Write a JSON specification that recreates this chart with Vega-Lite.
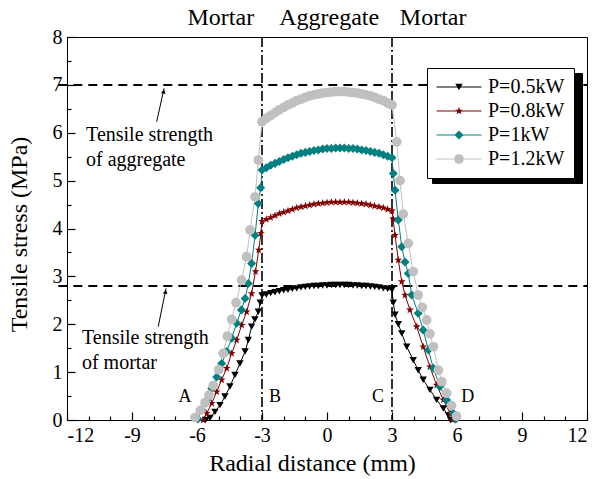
{
"$schema": "https://vega.github.io/schema/vega-lite/v6.json",
"width": 520, "height": 383,
"autosize": "none",
"padding": {"left": 67, "top": 37, "right": 15, "bottom": 59},
"background": "white",
"config": {
  "font": "Liberation Serif",
  "view": {"stroke": "black", "strokeWidth": 1},
  "axis": {"grid": false, "domainColor": "black", "tickColor": "black", "labelColor": "black", "titleColor": "black", "labelFont": "Liberation Serif", "titleFont": "Liberation Serif", "labelFontSize": 20, "titleFontSize": 24, "titleFontWeight": "normal", "tickWidth": 1.2, "domainWidth": 1}
},
"datasets": {
"curves": [
{"s":"P=0.5kW","x":-5.6,"y":0},{"s":"P=0.5kW","x":-5.4,"y":0.04},{"s":"P=0.5kW","x":-5.17,"y":0.17},{"s":"P=0.5kW","x":-4.94,"y":0.31},{"s":"P=0.5kW","x":-4.71,"y":0.49},{"s":"P=0.5kW","x":-4.48,"y":0.7},{"s":"P=0.5kW","x":-4.25,"y":0.94},{"s":"P=0.5kW","x":-4.02,"y":1.18},{"s":"P=0.5kW","x":-3.78,"y":1.43},{"s":"P=0.5kW","x":-3.63,"y":1.67},{"s":"P=0.5kW","x":-3.48,"y":1.95},{"s":"P=0.5kW","x":-3.33,"y":2.1},{"s":"P=0.5kW","x":-3.17,"y":2.26},{"s":"P=0.5kW","x":-3.08,"y":2.45},
{"s":"P=0.5kW","x":-3,"y":2.6},{"s":"P=0.5kW","x":-2.8,"y":2.62},{"s":"P=0.5kW","x":-2.6,"y":2.65},{"s":"P=0.5kW","x":-2.4,"y":2.67},{"s":"P=0.5kW","x":-2.2,"y":2.69},{"s":"P=0.5kW","x":-2,"y":2.71},{"s":"P=0.5kW","x":-1.8,"y":2.72},{"s":"P=0.5kW","x":-1.6,"y":2.74},{"s":"P=0.5kW","x":-1.4,"y":2.75},{"s":"P=0.5kW","x":-1.2,"y":2.77},{"s":"P=0.5kW","x":-1,"y":2.78},{"s":"P=0.5kW","x":-0.8,"y":2.79},{"s":"P=0.5kW","x":-0.6,"y":2.8},{"s":"P=0.5kW","x":-0.4,"y":2.8},{"s":"P=0.5kW","x":-0.2,"y":2.81},{"s":"P=0.5kW","x":0,"y":2.81},{"s":"P=0.5kW","x":0.2,"y":2.82},{"s":"P=0.5kW","x":0.4,"y":2.82},{"s":"P=0.5kW","x":0.6,"y":2.82},{"s":"P=0.5kW","x":0.8,"y":2.82},{"s":"P=0.5kW","x":1,"y":2.82},{"s":"P=0.5kW","x":1.2,"y":2.81},{"s":"P=0.5kW","x":1.4,"y":2.81},{"s":"P=0.5kW","x":1.6,"y":2.8},{"s":"P=0.5kW","x":1.8,"y":2.8},{"s":"P=0.5kW","x":2,"y":2.79},{"s":"P=0.5kW","x":2.2,"y":2.78},{"s":"P=0.5kW","x":2.4,"y":2.77},{"s":"P=0.5kW","x":2.6,"y":2.75},{"s":"P=0.5kW","x":2.8,"y":2.74},{"s":"P=0.5kW","x":3,"y":2.72},
{"s":"P=0.5kW","x":3.06,"y":2.45},{"s":"P=0.5kW","x":3.14,"y":2.2},{"s":"P=0.5kW","x":3.29,"y":2.0},{"s":"P=0.5kW","x":3.45,"y":1.81},{"s":"P=0.5kW","x":3.68,"y":1.53},{"s":"P=0.5kW","x":3.98,"y":1.25},{"s":"P=0.5kW","x":4.21,"y":1.04},{"s":"P=0.5kW","x":4.44,"y":0.84},{"s":"P=0.5kW","x":4.75,"y":0.63},{"s":"P=0.5kW","x":5.06,"y":0.42},{"s":"P=0.5kW","x":5.37,"y":0.24},{"s":"P=0.5kW","x":5.6,"y":0.1},{"s":"P=0.5kW","x":5.7,"y":0},
{"s":"P=0.8kW","x":-5.72,"y":0},{"s":"P=0.8kW","x":-5.55,"y":0.14},{"s":"P=0.8kW","x":-5.32,"y":0.35},{"s":"P=0.8kW","x":-5.09,"y":0.59},{"s":"P=0.8kW","x":-4.86,"y":0.84},{"s":"P=0.8kW","x":-4.63,"y":1.08},{"s":"P=0.8kW","x":-4.4,"y":1.39},{"s":"P=0.8kW","x":-4.17,"y":1.67},{"s":"P=0.8kW","x":-3.94,"y":1.98},{"s":"P=0.8kW","x":-3.71,"y":2.26},{"s":"P=0.8kW","x":-3.48,"y":2.64},{"s":"P=0.8kW","x":-3.3,"y":3.1},{"s":"P=0.8kW","x":-3.15,"y":3.55},{"s":"P=0.8kW","x":-3.05,"y":3.9},
{"s":"P=0.8kW","x":-3,"y":4.15},{"s":"P=0.8kW","x":-2.8,"y":4.19},{"s":"P=0.8kW","x":-2.6,"y":4.23},{"s":"P=0.8kW","x":-2.4,"y":4.27},{"s":"P=0.8kW","x":-2.2,"y":4.31},{"s":"P=0.8kW","x":-2,"y":4.34},{"s":"P=0.8kW","x":-1.8,"y":4.37},{"s":"P=0.8kW","x":-1.6,"y":4.4},{"s":"P=0.8kW","x":-1.4,"y":4.43},{"s":"P=0.8kW","x":-1.2,"y":4.45},{"s":"P=0.8kW","x":-1,"y":4.47},{"s":"P=0.8kW","x":-0.8,"y":4.49},{"s":"P=0.8kW","x":-0.6,"y":4.51},{"s":"P=0.8kW","x":-0.4,"y":4.52},{"s":"P=0.8kW","x":-0.2,"y":4.53},{"s":"P=0.8kW","x":0,"y":4.54},{"s":"P=0.8kW","x":0.2,"y":4.55},{"s":"P=0.8kW","x":0.4,"y":4.55},{"s":"P=0.8kW","x":0.6,"y":4.55},{"s":"P=0.8kW","x":0.8,"y":4.55},{"s":"P=0.8kW","x":1,"y":4.55},{"s":"P=0.8kW","x":1.2,"y":4.54},{"s":"P=0.8kW","x":1.4,"y":4.53},{"s":"P=0.8kW","x":1.6,"y":4.52},{"s":"P=0.8kW","x":1.8,"y":4.51},{"s":"P=0.8kW","x":2,"y":4.49},{"s":"P=0.8kW","x":2.2,"y":4.47},{"s":"P=0.8kW","x":2.4,"y":4.45},{"s":"P=0.8kW","x":2.6,"y":4.43},{"s":"P=0.8kW","x":2.8,"y":4.4},{"s":"P=0.8kW","x":3,"y":4.37},
{"s":"P=0.8kW","x":3.05,"y":4.2},{"s":"P=0.8kW","x":3.14,"y":3.86},{"s":"P=0.8kW","x":3.29,"y":3.34},{"s":"P=0.8kW","x":3.45,"y":2.89},{"s":"P=0.8kW","x":3.6,"y":2.61},{"s":"P=0.8kW","x":3.83,"y":2.3},{"s":"P=0.8kW","x":4.14,"y":1.95},{"s":"P=0.8kW","x":4.44,"y":1.53},{"s":"P=0.8kW","x":4.75,"y":1.11},{"s":"P=0.8kW","x":5.06,"y":0.73},{"s":"P=0.8kW","x":5.37,"y":0.42},{"s":"P=0.8kW","x":5.68,"y":0.14},{"s":"P=0.8kW","x":5.8,"y":0},
{"s":"P=1kW","x":-5.96,"y":0.02},{"s":"P=1kW","x":-5.78,"y":0.21},{"s":"P=1kW","x":-5.55,"y":0.42},{"s":"P=1kW","x":-5.32,"y":0.66},{"s":"P=1kW","x":-5.09,"y":0.9},{"s":"P=1kW","x":-4.86,"y":1.18},{"s":"P=1kW","x":-4.63,"y":1.43},{"s":"P=1kW","x":-4.4,"y":1.71},{"s":"P=1kW","x":-4.17,"y":2.02},{"s":"P=1kW","x":-3.95,"y":2.3},{"s":"P=1kW","x":-3.78,"y":2.54},{"s":"P=1kW","x":-3.63,"y":2.85},{"s":"P=1kW","x":-3.48,"y":3.27},{"s":"P=1kW","x":-3.32,"y":3.86},{"s":"P=1kW","x":-3.17,"y":4.52},{"s":"P=1kW","x":-3.06,"y":4.85},
{"s":"P=1kW","x":-3,"y":5.22},{"s":"P=1kW","x":-2.8,"y":5.27},{"s":"P=1kW","x":-2.6,"y":5.32},{"s":"P=1kW","x":-2.4,"y":5.36},{"s":"P=1kW","x":-2.2,"y":5.4},{"s":"P=1kW","x":-2,"y":5.44},{"s":"P=1kW","x":-1.8,"y":5.48},{"s":"P=1kW","x":-1.6,"y":5.51},{"s":"P=1kW","x":-1.4,"y":5.54},{"s":"P=1kW","x":-1.2,"y":5.57},{"s":"P=1kW","x":-1,"y":5.59},{"s":"P=1kW","x":-0.8,"y":5.61},{"s":"P=1kW","x":-0.6,"y":5.63},{"s":"P=1kW","x":-0.4,"y":5.64},{"s":"P=1kW","x":-0.2,"y":5.66},{"s":"P=1kW","x":0,"y":5.67},{"s":"P=1kW","x":0.2,"y":5.67},{"s":"P=1kW","x":0.4,"y":5.68},{"s":"P=1kW","x":0.6,"y":5.68},{"s":"P=1kW","x":0.8,"y":5.68},{"s":"P=1kW","x":1,"y":5.67},{"s":"P=1kW","x":1.2,"y":5.67},{"s":"P=1kW","x":1.4,"y":5.66},{"s":"P=1kW","x":1.6,"y":5.64},{"s":"P=1kW","x":1.8,"y":5.63},{"s":"P=1kW","x":2,"y":5.61},{"s":"P=1kW","x":2.2,"y":5.59},{"s":"P=1kW","x":2.4,"y":5.57},{"s":"P=1kW","x":2.6,"y":5.54},{"s":"P=1kW","x":2.8,"y":5.51},{"s":"P=1kW","x":3,"y":5.48},
{"s":"P=1kW","x":3.06,"y":5.15},{"s":"P=1kW","x":3.14,"y":4.8},{"s":"P=1kW","x":3.29,"y":4.18},{"s":"P=1kW","x":3.45,"y":3.62},{"s":"P=1kW","x":3.6,"y":3.3},{"s":"P=1kW","x":3.75,"y":3.06},{"s":"P=1kW","x":3.91,"y":2.61},{"s":"P=1kW","x":4.21,"y":2.23},{"s":"P=1kW","x":4.44,"y":1.88},{"s":"P=1kW","x":4.68,"y":1.46},{"s":"P=1kW","x":4.91,"y":1.08},{"s":"P=1kW","x":5.21,"y":0.7},{"s":"P=1kW","x":5.52,"y":0.42},{"s":"P=1kW","x":5.83,"y":0.14},{"s":"P=1kW","x":5.95,"y":0.02},
{"s":"P=1.2kW","x":-6.09,"y":0.05},{"s":"P=1.2kW","x":-5.85,"y":0.2},{"s":"P=1.2kW","x":-5.63,"y":0.36},{"s":"P=1.2kW","x":-5.45,"y":0.52},{"s":"P=1.2kW","x":-5.25,"y":0.72},{"s":"P=1.2kW","x":-5.0,"y":1.05},{"s":"P=1.2kW","x":-4.79,"y":1.39},{"s":"P=1.2kW","x":-4.6,"y":1.75},{"s":"P=1.2kW","x":-4.4,"y":2.1},{"s":"P=1.2kW","x":-4.2,"y":2.45},{"s":"P=1.2kW","x":-3.94,"y":2.92},{"s":"P=1.2kW","x":-3.71,"y":3.41},{"s":"P=1.2kW","x":-3.55,"y":3.97},{"s":"P=1.2kW","x":-3.32,"y":4.66},{"s":"P=1.2kW","x":-3.17,"y":5.43},
{"s":"P=1.2kW","x":-3,"y":6.23},{"s":"P=1.2kW","x":-2.8,"y":6.3},{"s":"P=1.2kW","x":-2.6,"y":6.36},{"s":"P=1.2kW","x":-2.4,"y":6.42},{"s":"P=1.2kW","x":-2.2,"y":6.48},{"s":"P=1.2kW","x":-2,"y":6.53},{"s":"P=1.2kW","x":-1.8,"y":6.58},{"s":"P=1.2kW","x":-1.6,"y":6.62},{"s":"P=1.2kW","x":-1.4,"y":6.67},{"s":"P=1.2kW","x":-1.2,"y":6.7},{"s":"P=1.2kW","x":-1,"y":6.74},{"s":"P=1.2kW","x":-0.8,"y":6.77},{"s":"P=1.2kW","x":-0.6,"y":6.79},{"s":"P=1.2kW","x":-0.4,"y":6.81},{"s":"P=1.2kW","x":-0.2,"y":6.83},{"s":"P=1.2kW","x":0,"y":6.84},{"s":"P=1.2kW","x":0.2,"y":6.85},{"s":"P=1.2kW","x":0.4,"y":6.86},{"s":"P=1.2kW","x":0.6,"y":6.86},{"s":"P=1.2kW","x":0.8,"y":6.86},{"s":"P=1.2kW","x":1,"y":6.85},{"s":"P=1.2kW","x":1.2,"y":6.84},{"s":"P=1.2kW","x":1.4,"y":6.83},{"s":"P=1.2kW","x":1.6,"y":6.81},{"s":"P=1.2kW","x":1.8,"y":6.79},{"s":"P=1.2kW","x":2,"y":6.77},{"s":"P=1.2kW","x":2.2,"y":6.74},{"s":"P=1.2kW","x":2.4,"y":6.7},{"s":"P=1.2kW","x":2.6,"y":6.67},{"s":"P=1.2kW","x":2.8,"y":6.62},{"s":"P=1.2kW","x":3,"y":6.58},
{"s":"P=1.2kW","x":3.22,"y":5.81},{"s":"P=1.2kW","x":3.37,"y":5.0},{"s":"P=1.2kW","x":3.52,"y":4.3},{"s":"P=1.2kW","x":3.75,"y":3.69},{"s":"P=1.2kW","x":3.98,"y":3.1},{"s":"P=1.2kW","x":4.21,"y":2.61},{"s":"P=1.2kW","x":4.4,"y":2.35},{"s":"P=1.2kW","x":4.6,"y":2.09},{"s":"P=1.2kW","x":4.75,"y":1.8},{"s":"P=1.2kW","x":4.91,"y":1.53},{"s":"P=1.2kW","x":5.14,"y":1.04},{"s":"P=1.2kW","x":5.3,"y":0.8},{"s":"P=1.2kW","x":5.52,"y":0.56},{"s":"P=1.2kW","x":5.75,"y":0.3},{"s":"P=1.2kW","x":5.98,"y":0.08}
]
},
"layer": [
{
  "data": {"name": "curves"},
  "mark": {"type": "line", "strokeOpacity": 0},
  "encoding": {
    "x": {"field": "x", "type": "quantitative", "scale": {"domain": [-12, 12], "nice": false}, "axis": null},
    "y": {"field": "y", "type": "quantitative", "scale": {"domain": [0, 8], "nice": false}, "axis": null},
    "strokeDash": {"field": "s", "type": "nominal", "sort": "descending",
      "legend": {"orient": "none", "legendX": 365, "legendY": 36, "title": null, "padding": 9, "fillColor": "black", "strokeColor": "black", "symbolType": "stroke", "symbolSize": 17161, "symbolStrokeWidth": 1, "symbolStrokeColor": "black", "clipHeight": 20, "rowPadding": 4, "labelFontSize": 20, "labelExpr": "''", "labelOffset": 0}}
  }
},
{
  "data": {"values": [{"y": 7, "x0": -12.4, "x1": 12}, {"y": 2.8, "x0": -12.4, "x1": 12}]},
  "mark": {"type": "rule", "strokeDash": [9, 6], "strokeWidth": 2, "color": "black"},
  "encoding": {
    "x": {"field": "x0", "type": "quantitative", "scale": {"domain": [-12, 12], "nice": false}, "axis": {"orient": "bottom", "values": [-11,-10,-8,-7,-5,-4,-2,-1,1,2,4,5,7,8,10,11], "tickSize": -4, "labels": false, "domain": false, "title": null}},
    "x2": {"field": "x1"},
    "y": {"field": "y", "type": "quantitative", "scale": {"domain": [0, 8], "nice": false}, "axis": {"orient": "left", "values": [0.5,1.5,2.5,3.5,4.5,5.5,6.5,7.5], "tickSize": -4, "labels": false, "domain": false, "title": null}}
  }
},
{
  "data": {"values": [{"x": -3}, {"x": 3}]},
  "mark": {"type": "rule", "strokeDash": [10, 3, 2, 3], "strokeWidth": 1.6, "color": "black"},
  "encoding": {
    "x": {"field": "x", "type": "quantitative", "scale": {"domain": [-12, 12], "nice": false}, "axis": null}
  }
},
{
  "data": {"name": "curves"},
  "mark": {"type": "line", "strokeWidth": 1},
  "encoding": {
    "x": {"field": "x", "type": "quantitative", "scale": {"domain": [-12, 12], "nice": false}, "axis": {"orient": "bottom", "values": [-12,-9,-6,-3,0,3,6,9,12], "tickSize": -8, "labelPadding": 13, "labelExpr": "'' + datum.value", "title": "Radial distance (mm)", "titlePadding": 6, "titleX": 245}},
    "y": {"field": "y", "type": "quantitative", "scale": {"domain": [0, 8], "nice": false}, "axis": {"orient": "left", "values": [0,1,2,3,4,5,6,7,8], "tickSize": -8, "labelPadding": 13, "labelExpr": "'' + datum.value", "title": "Tensile stress (MPa)", "titlePadding": 21, "titleY": 197}},
    "stroke": {"field": "s", "type": "nominal", "sort": ["P=0.5kW","P=0.8kW","P=1kW","P=1.2kW"], "scale": {"range": ["#000000", "#800000", "#008080", "#c0c0c0"]},
      "legend": {"orient": "none", "legendX": 360, "legendY": 31, "title": null, "padding": 9, "fillColor": "white", "strokeColor": "black", "symbolType": "stroke", "symbolSize": 2025, "symbolStrokeWidth": 1, "clipHeight": 20, "rowPadding": 4, "labelFont": "Liberation Serif", "labelFontSize": 20, "labelColor": "black", "labelOffset": 6}}
  }
},
{
  "data": {"name": "curves"},
  "mark": {"type": "point", "filled": true, "opacity": 1, "strokeWidth": 0},
  "encoding": {
    "x": {"field": "x", "type": "quantitative", "scale": {"domain": [-12, 12], "nice": false}, "axis": null},
    "y": {"field": "y", "type": "quantitative", "scale": {"domain": [0, 8], "nice": false}, "axis": null},
    "color": {"field": "s", "type": "nominal", "scale": {"domain": ["P=0.5kW","P=0.8kW","P=1kW","P=1.2kW"], "range": ["#000000", "#800000", "#008080", "#c0c0c0"]},
      "legend": {"orient": "none", "legendX": 382, "legendY": 40, "title": null, "padding": 0, "symbolSize": 75, "clipHeight": 20, "rowPadding": 4, "labelFont": "Liberation Serif", "labelFontSize": 20, "labelExpr": "''", "symbolStrokeWidth": 0, "symbolOpacity": 1}},
    "shape": {"field": "s", "type": "nominal", "scale": {"domain": ["P=0.5kW","P=0.8kW","P=1kW","P=1.2kW"], "range": ["triangle-down", "M0,-1L0.235,-0.324L0.951,-0.309L0.38,0.124L0.588,0.809L0,0.4L-0.588,0.809L-0.38,0.124L-0.951,-0.309L-0.235,-0.324Z", "diamond", "circle"]},
      "legend": {"orient": "none", "legendX": 382, "legendY": 40, "title": null, "padding": 0, "symbolSize": 75, "clipHeight": 20, "rowPadding": 4, "labelFont": "Liberation Serif", "labelFontSize": 20, "labelExpr": "''", "symbolStrokeWidth": 0, "symbolOpacity": 1}},
    "size": {"field": "s", "type": "nominal", "scale": {"domain": ["P=0.5kW","P=0.8kW","P=1kW","P=1.2kW"], "range": [55, 95, 60, 80]}, "legend": null}
  }
},
{
  "data": {"values": [{"x": -7.86, "y": 6.23, "x2": -7.52, "y2": 6.93}, {"x": -7.79, "y": 1.95, "x2": -7.43, "y2": 2.75}]},
  "mark": {"type": "rule", "strokeWidth": 1, "color": "black"},
  "encoding": {
    "x": {"field": "x", "type": "quantitative", "scale": {"domain": [-12, 12], "nice": false}, "axis": null},
    "y": {"field": "y", "type": "quantitative", "scale": {"domain": [0, 8], "nice": false}, "axis": null},
    "x2": {"field": "x2"},
    "y2": {"field": "y2"}
  }
},
{
  "data": {"values": [{"x": -7.54, "y": 6.86}, {"x": -7.45, "y": 2.68}]},
  "mark": {"type": "point", "shape": "triangle-up", "filled": true, "size": 22, "angle": 12, "color": "black", "opacity": 1},
  "encoding": {
    "x": {"field": "x", "type": "quantitative", "scale": {"domain": [-12, 12], "nice": false}, "axis": null},
    "y": {"field": "y", "type": "quantitative", "scale": {"domain": [0, 8], "nice": false}, "axis": null}
  }
},
{
  "data": {"values": [{"t": "Tensile strength", "x": -11.12, "y": 5.95}, {"t": "of aggregate", "x": -11.12, "y": 5.43}, {"t": "Tensile strength", "x": -11.31, "y": 1.71}, {"t": "of mortar", "x": -11.31, "y": 1.19}]},
  "mark": {"type": "text", "align": "left", "baseline": "middle", "fontSize": 20, "font": "Liberation Serif", "color": "black"},
  "encoding": {
    "x": {"field": "x", "type": "quantitative", "scale": {"domain": [-12, 12], "nice": false}, "axis": null},
    "y": {"field": "y", "type": "quantitative", "scale": {"domain": [0, 8], "nice": false}, "axis": null},
    "text": {"field": "t"}
  }
},
{
  "data": {"values": [{"t": "A", "x": -6.55, "y": 0.48}, {"t": "B", "x": -2.4, "y": 0.48}, {"t": "C", "x": 2.35, "y": 0.48}, {"t": "D", "x": 6.5, "y": 0.48}]},
  "mark": {"type": "text", "align": "center", "baseline": "middle", "fontSize": 18, "font": "Liberation Serif", "color": "black"},
  "encoding": {
    "x": {"field": "x", "type": "quantitative", "scale": {"domain": [-12, 12], "nice": false}, "axis": null},
    "y": {"field": "y", "type": "quantitative", "scale": {"domain": [0, 8], "nice": false}, "axis": null},
    "text": {"field": "t"}
  }
},
{
  "data": {"values": [{"t": "Mortar", "x": -4.9, "y": 8.4}, {"t": "Aggregate", "x": 0.1, "y": 8.4}, {"t": "Mortar", "x": 4.9, "y": 8.4}]},
  "mark": {"type": "text", "align": "center", "baseline": "middle", "fontSize": 24, "font": "Liberation Serif", "color": "black"},
  "encoding": {
    "x": {"field": "x", "type": "quantitative", "scale": {"domain": [-12, 12], "nice": false}, "axis": null},
    "y": {"field": "y", "type": "quantitative", "scale": {"domain": [0, 8], "nice": false}, "axis": null},
    "text": {"field": "t"}
  }
}
],
"resolve": {"axis": {"x": "independent", "y": "independent"}}
}
